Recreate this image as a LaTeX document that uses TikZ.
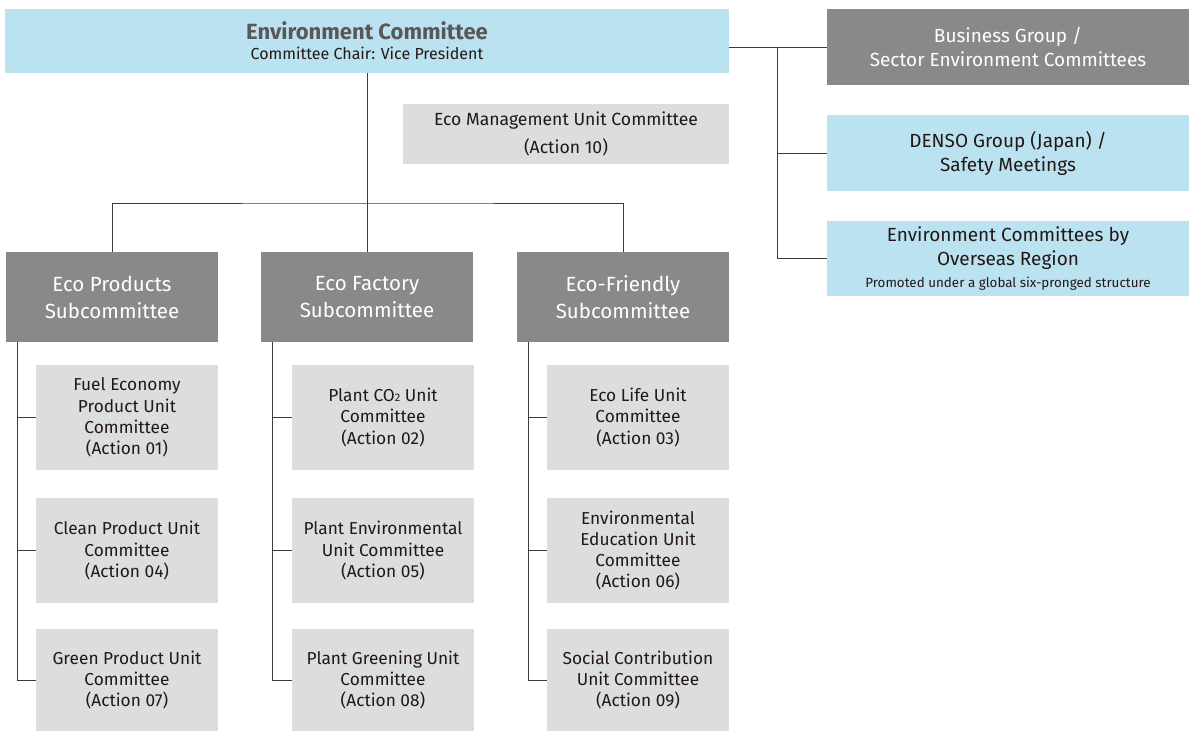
\documentclass[tikz,border=0pt]{standalone}
\usepackage{fontspec}
\setmainfont{Fira Sans}
\definecolor{lblue}{HTML}{BBE2F0}
\definecolor{dgray}{HTML}{898989}
\definecolor{lgray}{HTML}{DCDDDD}
\definecolor{ink}{HTML}{231815}
\definecolor{ttl}{HTML}{595757}
\definecolor{wire}{HTML}{3E3A39}
\begin{document}
\begin{tikzpicture}[x=1pt,y=-1pt,
  box/.style={anchor=north west,inner sep=0pt,outer sep=0pt,align=center,text=ink},
  bluebox/.style={box,fill=lblue},
  subbox/.style={box,fill=dgray,text=white,minimum width=212pt,minimum height=90pt,font=\fontsize{20.5}{27}\selectfont},
  unitbox/.style={box,fill=lgray,minimum width=182pt,font=\fontsize{17.3}{21.3}\selectfont},
  rbox/.style={box,minimum width=362pt,font=\fontsize{19}{24}\selectfont},
  wireline/.style={draw=wire,line width=1pt}]
\useasboundingbox (0,0) rectangle (1189,731);
% top
\node[bluebox,minimum width=724pt,minimum height=64pt] (top) at (5,9)
  {{\fontsize{22}{22}\selectfont\bfseries\color{ttl}Environment Committee}\\[6pt]
   {\fontsize{16}{16}\selectfont Committee Chair: Vice President}};
% right
\node[rbox,fill=dgray,text=white,minimum height=76pt] (biz) at (827,9)
  {Business Group /\\Sector Environment Committees};
\node[rbox,fill=lblue,minimum height=76pt] (denso) at (827,115)
  {DENSO Group (Japan) /\\Safety Meetings};
\node[rbox,fill=lblue,minimum height=75pt] (overseas) at (827,221)
  {Environment Committees by\\Overseas Region\\[-2pt]{\fontsize{13.4}{15}\selectfont Promoted under a global six-pronged structure}};
% eco management
\node[box,fill=lgray,minimum width=326pt,minimum height=60pt,font=\fontsize{17.6}{28}\selectfont] (ecom) at (403,104)
  {Eco Management Unit Committee\\(Action 10)};
% subcommittees
\node[subbox] (sp1) at (6,252) {Eco Products\\Subcommittee};
\node[subbox] (sp2) at (261,252) {Eco Factory\\Subcommittee};
\node[subbox] (sp3) at (517,252) {Eco-Friendly\\Subcommittee};
% units
\node[unitbox,minimum height=105pt] (u1) at (36,365) {Fuel Economy\\Product Unit\\Committee\\(Action 01)};
\node[unitbox,minimum height=105pt] (u2) at (292,365) {Plant CO{\fontsize{11}{11}\selectfont 2} Unit\\Committee\\(Action 02)};
\node[unitbox,minimum height=105pt] (u3) at (547,365) {Eco Life Unit\\Committee\\(Action 03)};
\node[unitbox,minimum height=105pt] (u4) at (36,498) {Clean Product Unit\\Committee\\(Action 04)};
\node[unitbox,minimum height=105pt] (u5) at (292,498) {Plant Environmental\\Unit Committee\\(Action 05)};
\node[unitbox,minimum height=105pt] (u6) at (547,498) {Environmental\\Education Unit\\Committee\\(Action 06)};
\node[unitbox,minimum height=102pt] (u7) at (36,629) {Green Product Unit\\Committee\\(Action 07)};
\node[unitbox,minimum height=102pt] (u8) at (292,629) {Plant Greening Unit\\Committee\\(Action 08)};
\node[unitbox,minimum height=102pt] (u9) at (547,629) {Social Contribution\\Unit Committee\\(Action 09)};
% connectors main tree
\coordinate (j1) at (368,203);
\draw[wireline] (top.south) -- (sp2.north);
\draw[wireline] (sp1.north) |- (j1) -| (sp3.north);
% right tree
\coordinate (rj) at (777,47);
\draw[wireline] (top.east |- biz.west) -- (biz.west);
\draw[wireline] (rj) |- (overseas.west);
\draw[wireline] (rj |- denso.west) -- (denso.west);
% sub trees
\coordinate (t1) at ([xshift=11pt]sp1.south west);
\coordinate (t2) at ([xshift=11pt]sp2.south west);
\coordinate (t3) at ([xshift=11pt]sp3.south west);
\draw[wireline] (t1) |- (u7.west);
\draw[wireline] (t1 |- u1.west) -- (u1.west);
\draw[wireline] (t1 |- u4.west) -- (u4.west);
\draw[wireline] (t2) |- (u8.west);
\draw[wireline] (t2 |- u2.west) -- (u2.west);
\draw[wireline] (t2 |- u5.west) -- (u5.west);
\draw[wireline] (t3) |- (u9.west);
\draw[wireline] (t3 |- u3.west) -- (u3.west);
\draw[wireline] (t3 |- u6.west) -- (u6.west);
\end{tikzpicture}
\end{document}
